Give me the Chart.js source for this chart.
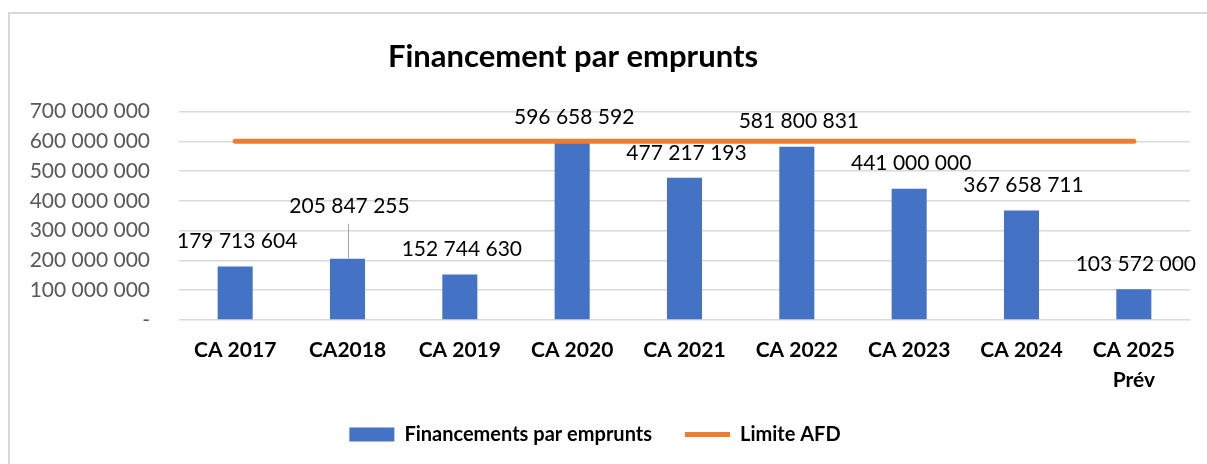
<!DOCTYPE html>
<html>
<head>
<meta charset="utf-8">
<script src="https://cdn.jsdelivr.net/npm/chart.js@4.4.0/dist/chart.umd.min.js"></script>
<style>
  html, body { margin: 0; padding: 0; background: #fff; }
  #wrap { position: relative; width: 1207px; height: 464px; overflow: hidden; }
  #cadre { position: absolute; left: 8px; top: 12px; width: 1300px; height: 600px;
           border-left: 2px solid #d9d9d9; border-top: 2px solid #d9d9d9; }
  canvas { position: absolute; left: 0; top: 0; }
</style>
</head>
<body>
<div id="wrap">
  <div id="cadre"></div>
  <canvas id="chart" width="1207" height="464"></canvas>
</div>
<script>
// Données
const titre = 'Financement par emprunts'
const categories = ['CA 2017', 'CA2018', 'CA 2019', 'CA 2020', 'CA 2021', 'CA 2022', 'CA 2023', 'CA 2024', ['CA 2025', 'Prév']]
const financements = [179713604, 205847255, 152744630, 596658592, 477217193, 581800831, 441000000, 367658711, 103572000]
const limiteAFD = [600000000, 600000000, 600000000, 600000000, 600000000, 600000000, 600000000, 600000000, 600000000]
const yMax = 700000000
const yPas = 100000000

function formatNombre(v) {
    if (v === 0) return '-'
    return String(v).replace(/\B(?=(\d{3})+(?!\d))/g, ' ')
}

// etiquettes au dessus des barres + titre
const etiquettes = {
    id: 'etiquettes',
    afterDatasetsDraw(chart) {
        const ctx = chart.ctx
        const meta = chart.getDatasetMeta(0)
        ctx.save()
        ctx.font = '21px Lato'
        ctx.fillStyle = '#000'
        ctx.textAlign = 'center'
        ctx.textBaseline = 'middle'
        meta.data.forEach((bar, i) => {
            let y = bar.y - 25
            if (i === 1) {
                // etiquette déplacée, avec ligne de rappel
                y = bar.y - 52
                ctx.strokeStyle = '#a6a6a6'
                ctx.lineWidth = 1
                ctx.beginPath()
                ctx.moveTo(Math.round(bar.x) + 0.5, y + 17)
                ctx.lineTo(Math.round(bar.x) + 0.5, bar.y)
                ctx.stroke()
            }
            ctx.fillText(formatNombre(financements[i]), bar.x + 2, y)
        })
        // titre (centré comme dans l'original, un peu à gauche)
        ctx.font = 'bold 31px Lato'
        ctx.fillText(titre, 573, 57)
        ctx.restore()
    }
}

const data = {
    labels: categories,
    datasets: [{
        type: 'bar',
        label: 'Financements par emprunts',
        data: financements,
        backgroundColor: '#4472C4',
        borderWidth: 0,
        pointStyle: 'rect',
        barPercentage: 0.312,
        categoryPercentage: 1,
        order: 1
    },
    {
        type: 'line',
        label: 'Limite AFD',
        data: limiteAFD,
        borderColor: '#ED7D31',
        backgroundColor: '#ED7D31',
        borderWidth: 5,
        borderCapStyle: 'round',
        pointRadius: 0,
        pointHoverRadius: 0,
        pointStyle: 'line',
        fill: false,
        order: 0
    }]
}

const config = {
    type: 'bar',
    data,
    options: {
        responsive: false,
        animation: false,
        devicePixelRatio: 1,
        layout: { padding: { left: 0, right: 17, top: 111.5, bottom: 9.5 } },
        plugins: {
            title: { display: false },
            legend: {
                position: 'bottom',
                labels: {
                    usePointStyle: true,
                    pointStyleWidth: 45,
                    boxHeight: 14,
                    padding: 33,
                    color: '#000',
                    font: { family: 'Lato', size: 20, weight: 'bold' },
                    sort: (a, b) => a.datasetIndex - b.datasetIndex
                }
            },
            tooltip: { enabled: false }
        },
        scales: {
            x: {
                grid: { display: false, drawTicks: false },
                border: { display: false },
                ticks: {
                    color: '#000',
                    font: { family: 'Lato', size: 21, weight: 'bold', lineHeight: 1.43 },
                    padding: 15,
                    maxRotation: 0,
                    autoSkip: false
                },
                afterFit: s => { s.height = 71.5 }
            },
            y: {
                min: 0,
                max: yMax,
                grid: { color: '#d9d9d9', lineWidth: 1.5, drawTicks: false },
                border: { display: false },
                ticks: {
                    stepSize: yPas,
                    color: '#595959',
                    font: { family: 'Lato', size: 21 },
                    padding: 29,
                    callback: v => formatNombre(v)
                },
                afterFit: s => { s.width = 179 }
            }
        }
    },
    plugins: [etiquettes]
}

const myChart = new Chart(document.getElementById('chart'), config)
</script>
</body>
</html>
